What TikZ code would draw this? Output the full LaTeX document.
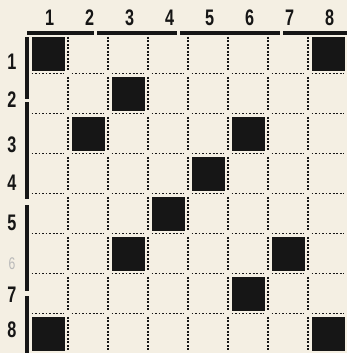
\documentclass[tikz,border=0pt]{standalone}
\usepackage{fontspec}
\newfontfamily\gridfont[FakeStretch=0.72]{Liberation Sans}
\definecolor{paper}{HTML}{F4EFE3}
\definecolor{ink}{HTML}{161616}
\begin{document}
\begin{tikzpicture}[x=1cm, y=-1cm,
  num/.style={font=\gridfont\bfseries\fontsize{16}{16}\selectfont, text=ink, inner sep=0pt},
  faint/.style={font=\gridfont\fontsize{12}{12}\selectfont, text=gray!55, inner sep=0pt},
  dotline/.style={draw=ink, line width=1pt, dash pattern=on 1.3pt off 1.2pt, shorten >=0.09cm, shorten <=0.09cm},
  rule/.style={draw=ink, line width=2.3pt},
  blackcell/.style={fill=ink}
]
\fill[paper] (0,0) rectangle (8.675,8.825);
\useasboundingbox (0,0) rectangle (8.675,8.825);
\foreach \k in {1,...,7}
  \foreach \j in {0,...,7} {
    \draw[dotline] (0.7+\j,0.83+\k) -- (1.7+\j,0.83+\k);
    \draw[dotline] (0.7+\k,0.83+\j) -- (0.7+\k,1.83+\j);
  }
\foreach \r/\c in {1/1,1/8,2/3,3/2,3/6,4/5,5/4,6/3,6/7,7/6,8/1,8/8}
  \fill[blackcell] (\c-0.21,\r-0.07) rectangle (\c+0.63,\r+0.77);
\foreach \a/\b in {0.675/2.35,2.425/4.425,4.5/7.0,7.075/8.675}
  \draw[rule] (\a,0.825) -- (\b,0.825);
\foreach \a/\b in {0.925/2.475,2.55/4.975,5.125/7.275,7.4/8.825}
  \draw[rule] (0.675,\a) -- (0.675,\b);
\foreach \c in {1,...,8}
  \node[num] (col\c) at (0.24+\c,0.45) {\c};
\foreach \r/\y in {1/1.55,2/2.5,3/3.63,4/4.58,5/5.58,7/7.38,8/8.25}
  \node[num] (row\r) at (0.3,\y) {\r};
\node[faint] (row6) at (0.3,6.58) {6};
\end{tikzpicture}
\end{document}
